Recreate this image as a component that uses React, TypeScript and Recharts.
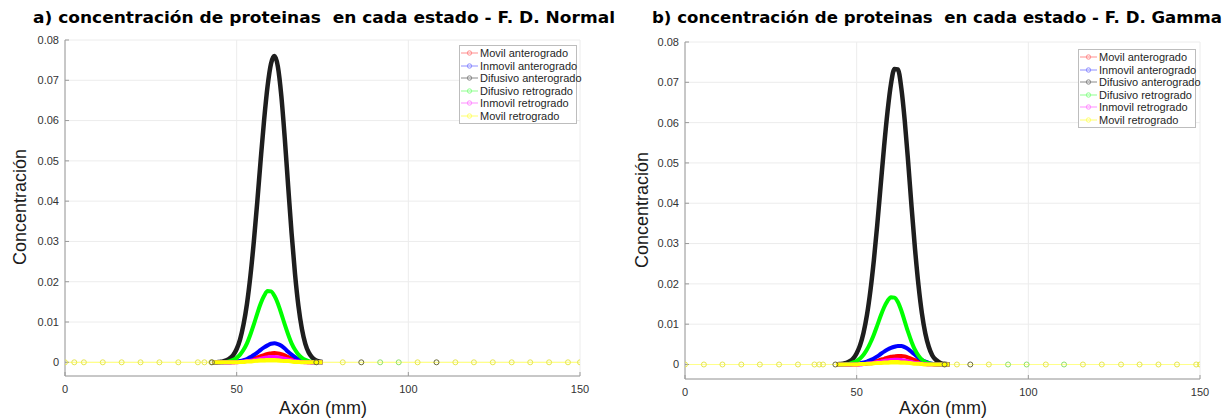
import { LineChart, Line, XAxis, YAxis, CartesianGrid } from 'recharts';

const X_TICKS = [0, 50, 100, 150];
const Y_TICKS = [0, 0.01, 0.02, 0.03, 0.04, 0.05, 0.06, 0.07, 0.08];

const SERIES_NAMES = [
  'Movil anterogrado',
  'Inmovil anterogrado',
  'Difusivo anterogrado',
  'Difusivo retrogrado',
  'Inmovil retrogrado',
  'Movil retrogrado',
];

// a) F. D. Normal — dense mesh around the pulse (mm)
const normalX = [43, 44, 45, 46, 47, 48, 49, 50, 51, 52, 53, 54, 55, 56, 57, 58, 59, 60, 61, 62, 63, 64, 65, 66, 67, 68, 69, 70, 71, 72, 73, 74, 75];
const normalMovilAnt = [0, 0, 0, 0, 0, 0, 0, 0.0001, 0.0002, 0.0003, 0.0004, 0.0006, 0.0009, 0.0012, 0.0015, 0.0018, 0.0021, 0.0022, 0.0023, 0.0022, 0.002, 0.0017, 0.0013, 0.0009, 0.0006, 0.0004, 0.0002, 0.0001, 0, 0, 0, 0, 0];
const normalInmovilAnt = [0, 0, 0, 0, 0, 0, 0.0001, 0.0002, 0.0003, 0.0005, 0.0008, 0.0013, 0.0018, 0.0024, 0.0031, 0.0037, 0.0042, 0.0046, 0.0047, 0.0045, 0.0041, 0.0034, 0.0026, 0.0019, 0.0013, 0.0008, 0.0005, 0.0002, 0.0001, 0, 0, 0, 0];
const normalDifusivoAnt = [0, 0, 0.0001, 0.0002, 0.0005, 0.001, 0.0018, 0.0033, 0.0057, 0.0094, 0.0145, 0.0214, 0.03, 0.0398, 0.0503, 0.0602, 0.0685, 0.0741, 0.076, 0.0734, 0.0662, 0.0557, 0.0437, 0.032, 0.0219, 0.0139, 0.0083, 0.0046, 0.0024, 0.0012, 0.0005, 0.0002, 0.0001];
const normalDifusivoRet = [0, 0, 0, 0, 0.0001, 0.0003, 0.0006, 0.0011, 0.0019, 0.0031, 0.0047, 0.0069, 0.0094, 0.0121, 0.0146, 0.0165, 0.0177, 0.0176, 0.0165, 0.0146, 0.0121, 0.0094, 0.0069, 0.0047, 0.0031, 0.0019, 0.0011, 0.0006, 0.0003, 0.0001, 0, 0, 0];
const normalInmovilRet = [0, 0, 0, 0, 0, 0, 0, 0, 0.0001, 0.0002, 0.0003, 0.0004, 0.0005, 0.0007, 0.0009, 0.0011, 0.0012, 0.0013, 0.0013, 0.0012, 0.0011, 0.0009, 0.0007, 0.0005, 0.0003, 0.0002, 0.0001, 0, 0, 0, 0, 0, 0];
const normalMovilRet = [0, 0, 0, 0, 0, 0, 0, 0, 0.0001, 0.0001, 0.0002, 0.0002, 0.0003, 0.0004, 0.0005, 0.0005, 0.0006, 0.0006, 0.0006, 0.0005, 0.0004, 0.0003, 0.0003, 0.0002, 0.0001, 0.0001, 0, 0, 0, 0, 0, 0, 0];
// sparse solver points lying on zero, outside the pulse
const normalTailMovilRet = [0, 2.7, 5.5, 11, 16.5, 22, 27.5, 33, 38.7, 40.6, 42.6, 80.9, 102.7, 113.7, 119.1, 124.6, 130.1, 135.5, 141, 146.5, 150];
const normalTailDifusivoAnt = [42.8, 73.2, 86.3, 108.2];
const normalTailDifusivoRet = [91.8, 97.2];

// b) F. D. Gamma
const gammaX = [44, 45, 46, 47, 48, 49, 50, 51, 52, 53, 54, 55, 56, 57, 58, 59, 60, 61, 62, 63, 64, 65, 66, 67, 68, 69, 70, 71, 72, 73, 74, 75, 76, 77];
const gammaMovilAnt = [0, 0, 0, 0, 0, 0, 0, 0.0001, 0.0002, 0.0003, 0.0005, 0.0007, 0.0009, 0.0012, 0.0014, 0.0017, 0.0019, 0.002, 0.0021, 0.0021, 0.002, 0.0017, 0.0014, 0.0011, 0.0008, 0.0005, 0.0003, 0.0002, 0.0001, 0, 0, 0, 0, 0];
const gammaInmovilAnt = [0, 0, 0, 0, 0, 0.0001, 0.0002, 0.0003, 0.0005, 0.0007, 0.0011, 0.0015, 0.002, 0.0026, 0.0032, 0.0037, 0.0041, 0.0044, 0.0046, 0.0046, 0.0043, 0.0038, 0.0031, 0.0024, 0.0017, 0.0011, 0.0007, 0.0004, 0.0002, 0.0001, 0, 0, 0, 0];
const gammaDifusivoAnt = [0, 0.0001, 0.0002, 0.0004, 0.0008, 0.0015, 0.0028, 0.0048, 0.0079, 0.0123, 0.0183, 0.0258, 0.0347, 0.0445, 0.0542, 0.0628, 0.0696, 0.0733, 0.0732, 0.0686, 0.0605, 0.0502, 0.039, 0.0286, 0.0197, 0.0127, 0.0077, 0.0044, 0.0023, 0.0012, 0.0006, 0.0002, 0.0001, 0];
const gammaDifusivoRet = [0, 0, 0, 0.0001, 0.0002, 0.0005, 0.0009, 0.0015, 0.0024, 0.0037, 0.0054, 0.0074, 0.0097, 0.0121, 0.0142, 0.0158, 0.0167, 0.0166, 0.0155, 0.0134, 0.0107, 0.008, 0.0056, 0.0036, 0.0022, 0.0012, 0.0006, 0.0003, 0.0001, 0, 0, 0, 0, 0];
const gammaInmovilRet = [0, 0, 0, 0, 0, 0, 0, 0, 0.0001, 0.0002, 0.0003, 0.0004, 0.0006, 0.0007, 0.0009, 0.001, 0.0011, 0.0012, 0.0012, 0.0011, 0.001, 0.0008, 0.0006, 0.0004, 0.0003, 0.0002, 0.0001, 0, 0, 0, 0, 0, 0, 0];
const gammaMovilRet = [0, 0, 0, 0, 0, 0, 0, 0.0001, 0.0001, 0.0002, 0.0002, 0.0003, 0.0004, 0.0004, 0.0005, 0.0005, 0.0006, 0.0006, 0.0006, 0.0005, 0.0005, 0.0004, 0.0003, 0.0002, 0.0002, 0.0001, 0, 0, 0, 0, 0, 0, 0, 0];
const gammaTailMovilRet = [0, 5.5, 10.9, 16.4, 21.8, 27.4, 32.9, 37.7, 39.1, 40.2, 79.2, 88.5, 105.1, 115.9, 121.4, 127, 132.4, 137.9, 143.3, 148.9, 150];
const gammaTailDifusivoAnt = [43.8, 75.6, 83.1];
const gammaTailDifusivoRet = [94.1, 99.5, 110.4];

// drawing order = legend order (last one on top)
const STROKES = ['#ff0000', '#0000ff', '#1e1e1e', '#00ff00', '#ff00ff', '#ffff00'];
const LEGEND_COLORS = ['#ff8f8f', '#8f8fff', '#8a8a8a', '#8fff8f', '#ff8fff', '#ffff70'];

const FONT = '"Liberation Sans", Arial, Helvetica, sans-serif';

type PanelProps = {
  left: number;
  width: number;
  plotTop: number;
  plotLeft: number;
  plotRight: number;
  axisBottom: number;
  yMin: number;
  xs: number[];
  series: number[][];
  tailYellow: number[];
  tailBlack: number[];
  tailGreen: number[];
};

const toRows = (xs: number[], ys: number[]) => xs.map((x, i) => ({ x, y: ys[i] }));
const zeroRows = (xs: number[]) => xs.map((x) => ({ x, y: 0 }));

function Panel(p: PanelProps) {
  return (
    <div style={{ position: 'absolute', left: p.left, top: 0 }}>
      <LineChart
        width={p.width}
        height={419}
        margin={{ top: p.plotTop, right: p.width - p.plotRight, bottom: 0, left: 0 }}
      >
        <CartesianGrid stroke="#ececec" strokeWidth={1} />
        <XAxis
          dataKey="x"
          type="number"
          domain={[0, 150]}
          ticks={X_TICKS}
          allowDataOverflow
          height={419 - p.axisBottom}
          tickSize={-4}
          tickMargin={13}
          tickLine={{ stroke: '#9a9a9a' }}
          axisLine={{ stroke: '#9a9a9a' }}
          tick={{ fill: '#333', fontSize: 11, fontFamily: FONT }}
        />
        <YAxis
          type="number"
          domain={[p.yMin, 0.08]}
          ticks={Y_TICKS}
          allowDataOverflow
          width={p.plotLeft}
          tickSize={-4}
          tickMargin={10}
          tickLine={{ stroke: '#9a9a9a' }}
          axisLine={{ stroke: '#9a9a9a' }}
          tick={{ fill: '#333', fontSize: 11, fontFamily: FONT }}
          tickFormatter={(v: number) => (v === 0 ? '0' : v.toFixed(2))}
        />
        <Line
          data={zeroRows(p.tailGreen)}
          dataKey="y"
          stroke="none"
          dot={{ r: 2.5, stroke: '#8ee06a', strokeWidth: 1, fill: 'none' }}
          isAnimationActive={false}
        />
        <Line
          data={zeroRows(p.tailYellow)}
          dataKey="y"
          stroke="#ffff8a"
          strokeWidth={1.2}
          dot={{ r: 2.5, stroke: '#e6e650', strokeWidth: 1, fill: 'none' }}
          isAnimationActive={false}
        />
        {p.series.map((ys, i) => (
          <Line
            key={SERIES_NAMES[i]}
            data={toRows(p.xs, ys)}
            dataKey="y"
            name={SERIES_NAMES[i]}
            type="monotone"
            stroke={STROKES[i]}
            strokeWidth={i === 2 ? 4.5 : 4}
            strokeLinejoin="round"
            dot={false}
            isAnimationActive={false}
          />
        ))}
        <Line
          data={zeroRows(p.tailBlack)}
          dataKey="y"
          stroke="none"
          dot={{ r: 2.5, stroke: '#6b6b3a', strokeWidth: 1, fill: 'none' }}
          isAnimationActive={false}
        />
      </LineChart>
    </div>
  );
}

function LegendBox({ left, top }: { left: number; top: number }) {
  return (
    <div
      style={{
        position: 'absolute',
        left,
        top,
        width: 116,
        border: '1px solid #bdbdbd',
        background: '#fff',
        padding: '1px 0 1px 0',
        fontFamily: FONT,
        fontSize: 11,
        color: '#1f1f1f',
        lineHeight: '12.5px',
      }}
    >
      {SERIES_NAMES.map((name, i) => (
        <div key={name} style={{ display: 'flex', alignItems: 'center', height: 12.5, whiteSpace: 'nowrap' }}>
          <svg width={20} height={12} style={{ flex: 'none' }}>
            <line x1={1} x2={18} y1={6} y2={6} stroke={LEGEND_COLORS[i]} strokeWidth={1} />
            <circle cx={9.5} cy={6} r={2.2} fill="none" stroke={LEGEND_COLORS[i]} strokeWidth={1} />
          </svg>
          <span>{name}</span>
        </div>
      ))}
    </div>
  );
}

export default function App() {
  return (
    <div
      style={{
        position: 'absolute',
        left: 0,
        top: 0,
        width: 1227,
        height: 419,
        background: '#fff',
        overflow: 'hidden',
      }}
    >
      <Panel
        left={0}
        width={613}
        plotTop={40}
        plotLeft={65}
        plotRight={580}
        axisBottom={376}
        yMin={-0.0034}
        xs={normalX}
        series={[normalMovilAnt, normalInmovilAnt, normalDifusivoAnt, normalDifusivoRet, normalInmovilRet, normalMovilRet]}
        tailYellow={normalTailMovilRet}
        tailBlack={normalTailDifusivoAnt}
        tailGreen={normalTailDifusivoRet}
      />
      <Panel
        left={620}
        width={607}
        plotTop={42}
        plotLeft={65}
        plotRight={580}
        axisBottom={379}
        yMin={-0.0036}
        xs={gammaX}
        series={[gammaMovilAnt, gammaInmovilAnt, gammaDifusivoAnt, gammaDifusivoRet, gammaInmovilRet, gammaMovilRet]}
        tailYellow={gammaTailMovilRet}
        tailBlack={gammaTailDifusivoAnt}
        tailGreen={gammaTailDifusivoRet}
      />
      <LegendBox left={459} top={45} />
      <LegendBox left={1078} top={49} />
      <svg
        width={1227}
        height={419}
        style={{ position: 'absolute', left: 0, top: 0, pointerEvents: 'none' }}
      >
        <g fontFamily='"DejaVu Sans", Verdana, sans-serif' fontWeight="bold" fontSize={15} fill="#000">
          <text x={33} y={23} textLength={582} lengthAdjust="spacingAndGlyphs" style={{ whiteSpace: 'pre' }}>
            a) concentración de proteinas  en cada estado - F. D. Normal
          </text>
          <text x={652} y={23} textLength={570} lengthAdjust="spacingAndGlyphs" style={{ whiteSpace: 'pre' }}>
            b) concentración de proteinas  en cada estado - F. D. Gamma
          </text>
        </g>
        <g fontFamily={FONT} fontSize={18} fill="#1a1a1a" textAnchor="middle">
          <text x={323} y={414}>Axón (mm)</text>
          <text x={943} y={414}>Axón (mm)</text>
          <text transform="translate(26 207) rotate(-90)">Concentración</text>
          <text transform="translate(648 210) rotate(-90)">Concentración</text>
        </g>
      </svg>
    </div>
  );
}
